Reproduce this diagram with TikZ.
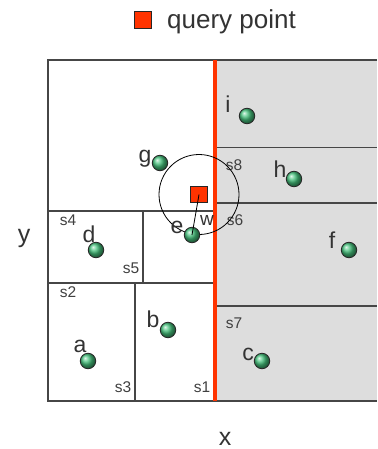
\documentclass[tikz,border=0pt]{standalone}
\usepackage{fontspec}
\setmainfont{Liberation Sans}
\usetikzlibrary{positioning}

\definecolor{qred}{RGB}{255,51,0}
\definecolor{ptgreen}{RGB}{70,195,125}
\definecolor{cellgray}{RGB}{221,221,221}
\definecolor{framegray}{RGB}{70,70,70}

\tikzset{
  frame/.style={draw=framegray,line width=1.2pt},
  split/.style={draw=qred,line width=3.6pt},
  pt/.style={circle,minimum size=15.5pt,inner sep=0pt,draw=black!85,line width=0.8pt,shading=ball,ball color=ptgreen},
  qpt/.style={rectangle,minimum size=16.5pt,inner sep=0pt,fill=qred,draw=black!85,line width=0.8pt},
  ptlabel/.style={anchor=base,inner sep=0pt,text=black!80,font=\fontsize{23}{23}\selectfont},
  cell/.style={anchor=base,inner sep=0pt,text=black!75,font=\fontsize{15.5}{16}\selectfont},
  axis/.style={anchor=base,inner sep=0pt,text=black!80,font=\fontsize{25}{25}\selectfont}
}

\begin{document}
\begin{tikzpicture}[x=1pt,y=-1pt]

    \useasboundingbox (0,0) rectangle (377,449);

    % --- legend ---
    \node[qpt] (legq) at (143,20) {};
    \node[anchor=base west,inner sep=0pt,text=black!80,font=\fontsize{26}{26}\selectfont] (legtext) at (167,29) {query point};

    % --- partition of the plane ---
    \fill[cellgray] (215,60) rectangle (377,401);
    \draw[frame] (377,60) -- (48,60) -- (48,401) -- (377,401);
    \draw[frame] (48,211) -- (215,211);
    \draw[frame] (143,211) -- (143,283);
    \draw[frame] (48,283) -- (215,283);
    \draw[frame] (135,283) -- (135,401);
    \draw[frame] (215,147.5) -- (377,147.5);
    \draw[frame] (215,203) -- (377,203);
    \draw[frame] (215,306) -- (377,306);
    \draw[split] (215,60) -- (215,401);

    % --- cell names ---
    \begin{scope}[every node/.style={cell}]
      \node (s1) at (202,392) {s1};
      \node (s2) at (68,297) {s2};
      \node (s3) at (123,392) {s3};
      \node (s4) at (68,225) {s4};
      \node (s5) at (131,273) {s5};
      \node (s6) at (235,225) {s6};
      \node (s7) at (234,328) {s7};
      \node (s8) at (234,170) {s8};
    \end{scope}

    % --- query point and search circle ---
    \node[qpt] (q) at (199,194.5) {};
    \draw[line width=0.8pt] (q.center) circle (40pt);

    % --- data points ---
    \node[pt] (a) at (88,361) {};
    \node[pt] (b) at (168,330) {};
    \node[pt] (c) at (262,361) {};
    \node[pt] (d) at (96,250) {};
    \node[pt] (e) at (192,235) {};
    \node[pt] (f) at (349,250) {};
    \node[pt] (g) at (160,163) {};
    \node[pt] (h) at (294,179) {};
    \node[pt] (i) at (247,116) {};

    \draw[line width=0.8pt] (q.center) -- (e.center);

    % --- point names ---
    \begin{scope}[every node/.style={ptlabel}]
      \node (lbla) at (80,352) {a};
      \node (lblb) at (153,327) {b};
      \node (lblc) at (248,360) {c};
      \node (lbld) at (89,242) {d};
      \node (lble) at (177,233) {e};
      \node (lblf) at (332,248) {f};
      \node (lblg) at (145,163) {g};
      \node (lblh) at (280,177) {h};
      \node (lbli) at (228,113) {i};
      \node[font=\fontsize{19}{19}\selectfont] (lblw) at (207,225) {w};
    \end{scope}

    % --- axes ---
    \node[axis] (xlabel) at (225,445) {x};
    \node[axis] (ylabel) at (24,242) {y};

\end{tikzpicture}
\end{document}
